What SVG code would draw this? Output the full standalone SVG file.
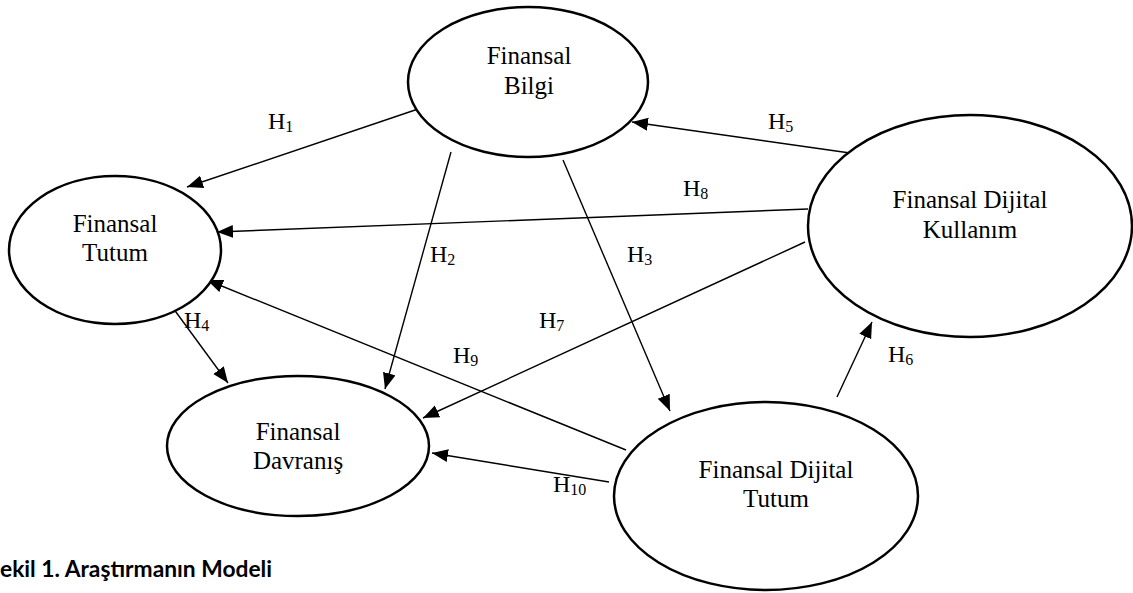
<svg xmlns="http://www.w3.org/2000/svg" width="1133" height="593" viewBox="0 0 1133 593">
<style>
  .node ellipse { fill: #ffffff; stroke: #000000; stroke-width: 2.5; }
  .node text { font-family: "Liberation Serif", "Times New Roman", serif; font-size: 25px; fill: #000; text-anchor: middle; }
  .conn line { stroke: #000; stroke-width: 1.4; marker-end: url(#arrow); }
  .lbl { font-family: "Liberation Serif", "Times New Roman", serif; font-size: 24px; fill: #000; }
  .sub { font-size: 16px; }
  .cap { font-family: Lato, "Noto Sans", sans-serif; font-weight: bold; font-size: 23px; fill: #000; }
</style>
<defs>
  <marker id="arrow" markerUnits="userSpaceOnUse" markerWidth="18" markerHeight="14" refX="16" refY="6.5" orient="auto">
    <path d="M0,0 L16,6.5 L0,13 z" fill="#000"/>
  </marker>
</defs>
<rect width="1133" height="593" fill="#ffffff"/>

<g id="connectors" class="conn">
  <line id="c-h1" x1="427" y1="106" x2="187" y2="187"/>
  <line id="c-h2" x1="451" y1="152" x2="385" y2="389"/>
  <line id="c-h3" x1="563" y1="160" x2="670" y2="411"/>
  <line id="c-h4" x1="173" y1="308" x2="228" y2="383"/>
  <line id="c-h5" x1="850" y1="153" x2="632" y2="122"/>
  <line id="c-h6" x1="837" y1="397" x2="872" y2="322"/>
  <line id="c-h7" x1="805" y1="242" x2="423" y2="418"/>
  <line id="c-h8" x1="808" y1="209" x2="217" y2="232"/>
  <line id="c-h9" x1="626" y1="450" x2="207" y2="280"/>
  <line id="c-h10" x1="609" y1="482" x2="432" y2="453"/>
</g>

<g id="node-bilgi" class="node">
  <ellipse cx="528" cy="82" rx="120" ry="75"/>
  <text x="529" y="64">Finansal</text>
  <text x="529" y="94">Bilgi</text>
</g>
<g id="node-tutum" class="node">
  <ellipse cx="115" cy="250" rx="106" ry="74"/>
  <text x="115" y="232">Finansal</text>
  <text x="115" y="261">Tutum</text>
</g>
<g id="node-davranis" class="node">
  <ellipse cx="298" cy="446" rx="131" ry="70"/>
  <text x="298" y="440">Finansal</text>
  <text x="298" y="469">Davranış</text>
</g>
<g id="node-dijital-tutum" class="node">
  <ellipse cx="766" cy="496" rx="152" ry="94"/>
  <text x="776" y="478">Finansal Dijital</text>
  <text x="776" y="507">Tutum</text>
</g>
<g id="node-dijital-kullanim" class="node">
  <ellipse cx="970" cy="226" rx="162" ry="111"/>
  <text x="970" y="208">Finansal Dijital</text>
  <text x="970" y="238">Kullanım</text>
</g>

<g id="labels">
  <text class="lbl" x="268" y="129">H<tspan class="sub" dy="3">1</tspan></text>
  <text class="lbl" x="430" y="262">H<tspan class="sub" dy="3">2</tspan></text>
  <text class="lbl" x="627" y="262">H<tspan class="sub" dy="3">3</tspan></text>
  <text class="lbl" x="184" y="328">H<tspan class="sub" dy="3">4</tspan></text>
  <text class="lbl" x="768" y="129">H<tspan class="sub" dy="3">5</tspan></text>
  <text class="lbl" x="888" y="362">H<tspan class="sub" dy="3">6</tspan></text>
  <text class="lbl" x="539" y="328">H<tspan class="sub" dy="3">7</tspan></text>
  <text class="lbl" x="683" y="196">H<tspan class="sub" dy="3">8</tspan></text>
  <text class="lbl" x="453" y="363">H<tspan class="sub" dy="3">9</tspan></text>
  <text class="lbl" x="553" y="492">H<tspan class="sub" dy="3">10</tspan></text>
</g>

<text class="cap" x="0" y="577" textLength="272" lengthAdjust="spacingAndGlyphs">ekil 1. Araştırmanın Modeli</text>
</svg>
